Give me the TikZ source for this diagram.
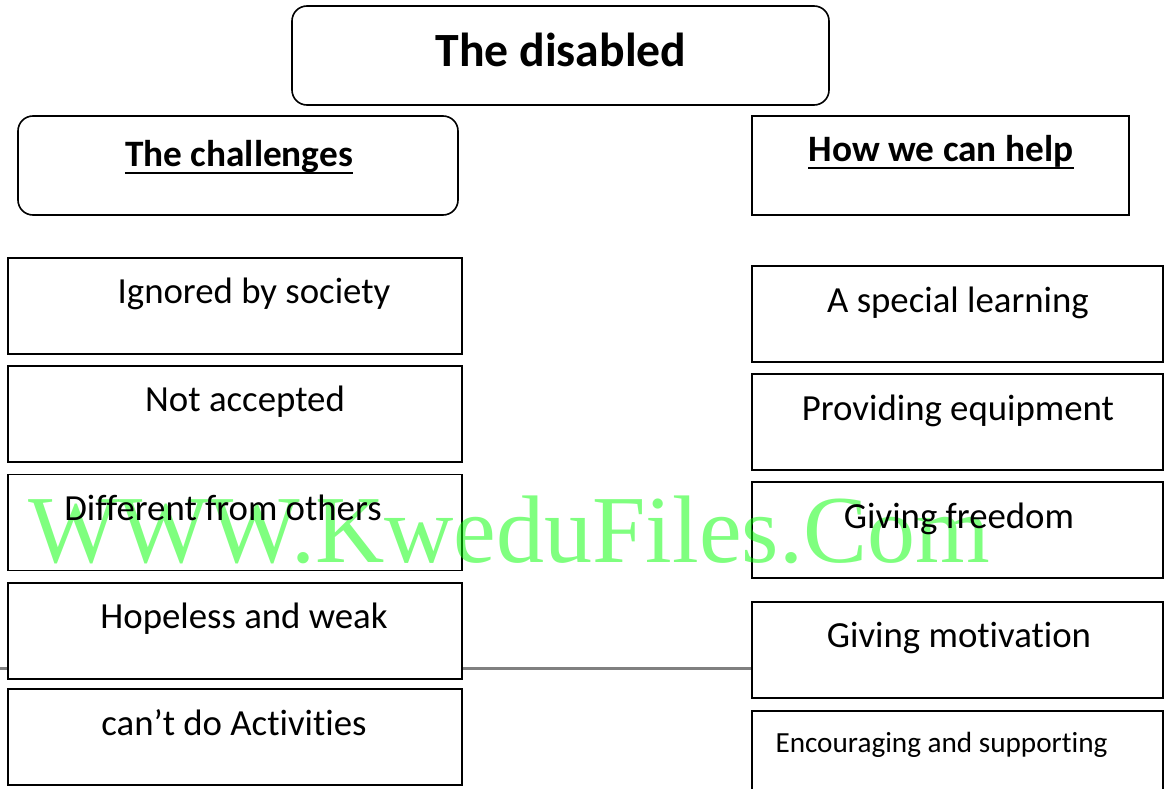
\documentclass[tikz,border=0pt]{standalone}
\usepackage{fontspec}
\setmainfont[RawFeature={-liga;-clig;-calt;-dlig}]{Carlito}
\newfontfamily\wmfont{Liberation Serif}
\newcommand{\nolig}{\kern0pt}
\tikzset{
  box/.style={draw, line width=1.6pt, fill=white, inner sep=0pt},
  rbox/.style={box, rounded corners=15pt},
  txt/.style={anchor=base, inner sep=0pt, font=\fontsize{36.8}{40}\selectfont},
  head/.style={anchor=base, inner sep=0pt, font=\fontsize{37.3}{40}\selectfont\bfseries},
  uline/.style={line width=2.8pt},
}
\begin{document}
\begin{tikzpicture}[x=1pt, y=-1pt]
  \useasboundingbox (0,0) rectangle (1165,789);
  % separator behind the boxes
  \coordinate (lend) at (0,668);
  \node[box, minimum width=411pt, minimum height=96pt] (h4) at (957.5,650) {};
  \draw[gray, line width=3pt] (lend) -- (lend -| h4.west);
  % headings
  \node[rbox, minimum width=537pt, minimum height=99pt] (title) at (560.5,55.5) {};
  \node[rbox, minimum width=440pt, minimum height=99pt] (chal) at (238,165.5) {};
  \node[box, minimum width=377pt, minimum height=99pt] (help) at (940.5,165.5) {};
  % left column
  \foreach \n/\y in {1/306, 2/414, 3/522.5, 4/631, 5/737}
    \node[box, minimum width=454pt, minimum height=96pt] (c\n) at (235,\y) {};
  % right column
  \foreach \n/\y in {1/314, 2/422, 3/530, 5/759}
    \node[box, minimum width=411pt, minimum height=96pt] (h\n) at (957.5,\y) {};
  % watermark
  \node[anchor=base west, inner sep=0pt, text=green, opacity=0.5,
    font=\fontsize{96}{100}\wmfont] (wm) at (28,562) {WWW.KweduFiles.Com};
  % texts
  \node[anchor=base, inner sep=0pt, font=\fontsize{47.7}{50}\selectfont\bfseries] (titlet) at (561,67) {The disabled};
  \node[head] (chalt) at (239,167) {The challenges};
  \node[head] (helpt) at (941,162) {How we can help};
  \draw[uline] ([yshift=-6pt]chalt.base west) -- ([yshift=-6pt]chalt.base east);
  \draw[uline] ([yshift=-6pt]helpt.base west) -- ([yshift=-6pt]helpt.base east);
  \node[txt] (c1t) at (254,303) {Ignored by society};
  \node[txt] (c2t) at (245,411) {Not accepted};
  \node[txt] (c3t) at (223,520) {Different from others};
  \node[txt] (c4t) at (244,628) {Hopeless and weak};
  \node[txt] (c5t) at (234,735) {can’t do Act\nolig ivit\nolig ies};
  \node[txt] (h1t) at (958,312) {A special learning};
  \node[txt] (h2t) at (958,420) {Providing equipment};
  \node[txt] (h3t) at (959,528) {Giving freedom};
  \node[txt] (h4t) at (959,647) {Giving mot\nolig ivat\nolig ion};
  \node[txt, font=\fontsize{29.2}{32}\selectfont] (h5t) at (941.5,752) {Encouraging and supporting};
\end{tikzpicture}
\end{document}
